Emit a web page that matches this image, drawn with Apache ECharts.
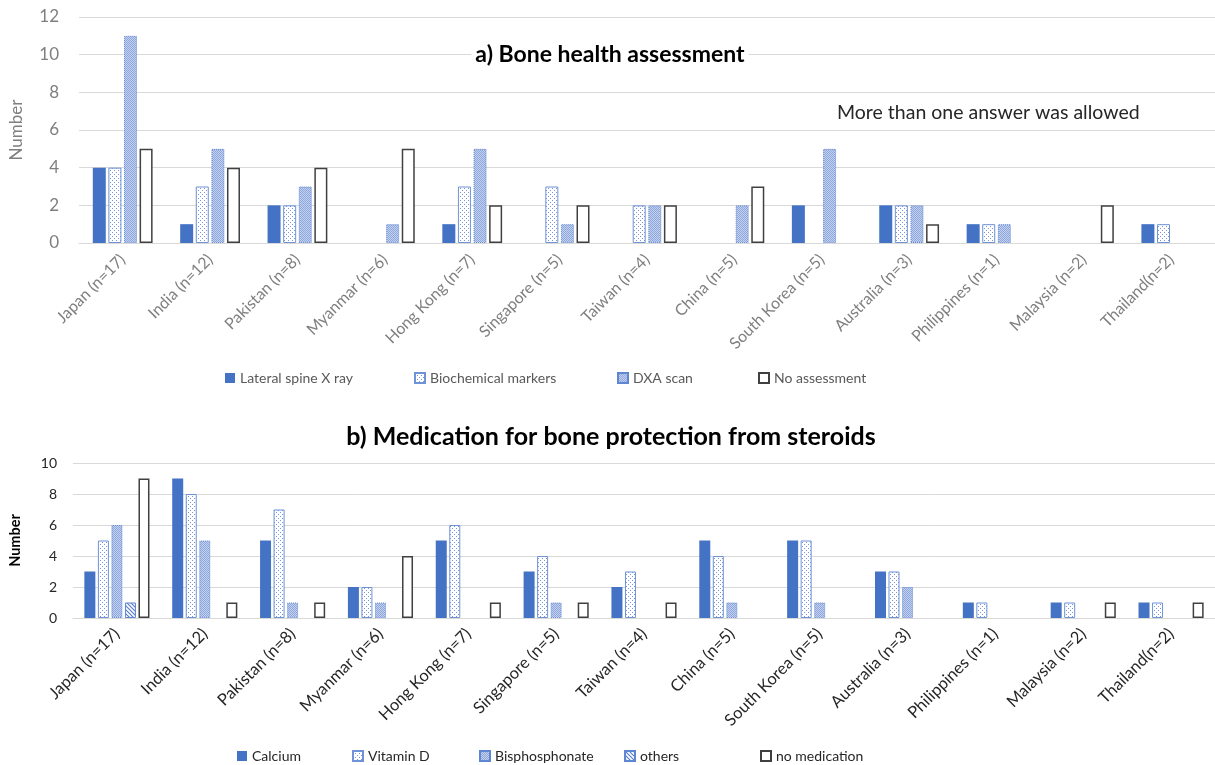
<!DOCTYPE html>
<html>
<head>
<meta charset="utf-8">
<script src="https://cdn.jsdelivr.net/npm/echarts@6/dist/echarts.min.js"></script>
<style>
  html, body { margin: 0; padding: 0; background: #fff; }
  #chart { width: 1215px; height: 765px; }
</style>
</head>
<body>
<div id="chart"></div>
<script>
// Countries surveyed (shared by both panels)
const categories = ['Japan (n=17)', 'India (n=12)', 'Pakistan (n=8)', 'Myanmar (n=6)', 'Hong Kong (n=7)',
  'Singapore (n=5)', 'Taiwan (n=4)', 'China (n=5)', 'South Korea (n=5)', 'Australia (n=3)',
  'Philippines (n=1)', 'Malaysia (n=2)', 'Thailand(n=2)'];

// a) Bone health assessment
const lateralSpineXray = [4, 1, 2, 0, 1, 0, 0, 0, 2, 2, 1, 0, 1];
const biochemicalMarkers = [4, 3, 2, 0, 3, 3, 2, 0, 0, 2, 1, 0, 1];
const dxaScan = [11, 5, 3, 1, 5, 1, 2, 2, 5, 2, 1, 0, 0];
const noAssessment = [5, 4, 4, 5, 2, 2, 2, 3, 0, 1, 0, 2, 0];

// b) Medication for bone protection from steroids
const calcium = [3, 9, 5, 2, 5, 3, 2, 5, 5, 3, 1, 1, 1];
const vitaminD = [5, 8, 7, 2, 6, 4, 3, 4, 5, 3, 1, 1, 1];
const bisphosphonate = [6, 5, 1, 1, 0, 1, 0, 1, 1, 2, 0, 0, 0];
const others = [1, 0, 0, 0, 0, 0, 0, 0, 0, 0, 0, 0, 0];
const noMedication = [9, 1, 1, 4, 1, 1, 1, 0, 0, 0, 0, 1, 1];

const FONT = 'Lato, "Open Sans", sans-serif';
const BLUE = '#4472C4';

// zero counts draw no bar at all
const bars = arr => arr.map(v => (v === 0 ? '-' : v));

function pattern(size, draw) {
  const c = document.createElement('canvas');
  c.width = size; c.height = size;
  draw(c.getContext('2d'));
  return { image: c, repeat: 'repeat' };
}

// white fill with sparse blue dots
const dotted = () => pattern(4, g => {
  g.fillStyle = '#ffffff'; g.fillRect(0, 0, 4, 4);
  g.fillStyle = '#7696d8';
  g.fillRect(0, 0, 1, 1); g.fillRect(2, 2, 1, 1);
});
// dense light-blue stipple
const stipple = () => pattern(2, g => {
  g.fillStyle = '#c3d1ee'; g.fillRect(0, 0, 2, 2);
  g.fillStyle = '#8ea8de';
  g.fillRect(0, 0, 1, 1); g.fillRect(1, 1, 1, 1);
});
// diagonal hatch
const hatch = () => pattern(4, g => {
  g.fillStyle = '#ffffff'; g.fillRect(0, 0, 4, 4);
  g.strokeStyle = '#5a80cc'; g.lineWidth = 1.2;
  g.beginPath(); g.moveTo(0, 0); g.lineTo(4, 4); g.moveTo(-1, 3); g.lineTo(1, 5); g.moveTo(3, -1); g.lineTo(5, 1); g.stroke();
});

const styles = {
  solid: () => ({ color: BLUE, borderColor: BLUE, borderWidth: 0 }),
  dots: () => ({ color: dotted(), borderColor: '#6f93d6', borderWidth: 1 }),
  stip: () => ({ color: stipple(), borderColor: '#5f86d2', borderWidth: 1, borderType: 'dotted' }),
  hatch: () => ({ color: hatch(), borderColor: '#5f86d2', borderWidth: 1 }),
  outline: () => ({ color: '#ffffff', borderColor: '#404040', borderWidth: 1.5 })
};

function barSeries(name, data, style, idx, width, gap) {
  return {
    name, type: 'bar', xAxisIndex: idx, yAxisIndex: idx,
    data: bars(data), barWidth: width, barGap: gap,
    itemStyle: styles[style](),
    emphasis: { disabled: true }
  };
}

function legend(name, left, top, color) {
  return {
    data: [name], left, top, icon: 'rect', itemWidth: 10, itemHeight: 10, itemGap: 5,
    textStyle: { fontFamily: FONT, fontSize: 14, color }, selectedMode: false
  };
}

const chart = echarts.init(document.getElementById('chart'), null, { renderer: 'canvas' });

chart.setOption({
  animation: false,
  backgroundColor: '#ffffff',
  grid: [
    { left: 72, right: 0, top: 17, height: 226 },
    { left: 69, right: 0, top: 463, height: 155 }
  ],
  xAxis: [
    {
      gridIndex: 0, type: 'category', data: categories,
      axisTick: { show: false },
      axisLine: { lineStyle: { color: '#d9d9d9', width: 1 } },
      axisLabel: { interval: 0, rotate: 45, margin: 14, color: '#7f7f7f', fontSize: 16, fontFamily: FONT }
    },
    {
      gridIndex: 1, type: 'category', data: categories,
      axisTick: { show: false },
      axisLine: { lineStyle: { color: '#d9d9d9', width: 1 } },
      axisLabel: { interval: 0, rotate: 45, margin: 13, color: '#262626', fontSize: 16.5, fontFamily: FONT }
    }
  ],
  yAxis: [
    {
      gridIndex: 0, type: 'value', min: 0, max: 12, interval: 2,
      name: 'Number', nameLocation: 'middle', nameGap: 54,
      nameTextStyle: { color: '#7f7f7f', fontSize: 17, fontFamily: FONT },
      axisLabel: { color: '#7f7f7f', fontSize: 17, fontFamily: FONT, margin: 20 },
      splitLine: { lineStyle: { color: '#d9d9d9', width: 1 } },
      axisLine: { show: false }, axisTick: { show: false }
    },
    {
      gridIndex: 1, type: 'value', min: 0, max: 10, interval: 2,
      name: 'Number', nameLocation: 'middle', nameGap: 50,
      nameTextStyle: { color: '#000000', fontSize: 14.5, fontWeight: 'bold', fontFamily: FONT },
      axisLabel: { color: '#262626', fontSize: 14, fontFamily: FONT, margin: 16 },
      splitLine: { lineStyle: { color: '#d9d9d9', width: 1 } },
      axisLine: { show: false }, axisTick: { show: false }
    }
  ],
  legend: [
    legend('Lateral spine X ray', 220, 366, '#595959'),
    legend('Biochemical markers', 409, 366, '#595959'),
    legend('DXA scan', 612, 366, '#595959'),
    legend('No assessment', 753, 366, '#595959'),
    legend('Calcium', 232, 744, '#262626'),
    legend('Vitamin D', 347, 744, '#262626'),
    legend('Bisphosphonate', 474, 744, '#262626'),
    legend('others', 619, 744, '#262626'),
    legend('no medication', 755, 744, '#262626')
  ],
  graphic: [
    {
      type: 'text', x: 610, y: 55, z: 10,
      style: {
        text: 'a) Bone health assessment', font: 'bold 23px ' + FONT, fill: '#000000',
        align: 'center', verticalAlign: 'middle', backgroundColor: '#ffffff', padding: [0, 4]
      }
    },
    {
      type: 'text', x: 837, y: 113, z: 10,
      style: { text: 'More than one answer was allowed', font: '19.5px ' + FONT, fill: '#262626', verticalAlign: 'middle' }
    },
    {
      type: 'text', x: 611, y: 437, z: 10,
      style: {
        text: 'b) Medication for bone protection from steroids', font: 'bold 25px ' + FONT, fill: '#000000',
        align: 'center', verticalAlign: 'middle'
      }
    }
  ],
  series: [
    barSeries('Lateral spine X ray', lateralSpineXray, 'solid', 0, 13, '20%'),
    barSeries('Biochemical markers', biochemicalMarkers, 'dots', 0, 13, '20%'),
    barSeries('DXA scan', dxaScan, 'stip', 0, 13, '20%'),
    barSeries('No assessment', noAssessment, 'outline', 0, 13, '20%'),
    barSeries('Calcium', calcium, 'solid', 1, 11, '23%'),
    barSeries('Vitamin D', vitaminD, 'dots', 1, 11, '23%'),
    barSeries('Bisphosphonate', bisphosphonate, 'stip', 1, 11, '23%'),
    barSeries('others', others, 'hatch', 1, 11, '23%'),
    barSeries('no medication', noMedication, 'outline', 1, 11, '23%')
  ]
});
</script>
</body>
</html>
